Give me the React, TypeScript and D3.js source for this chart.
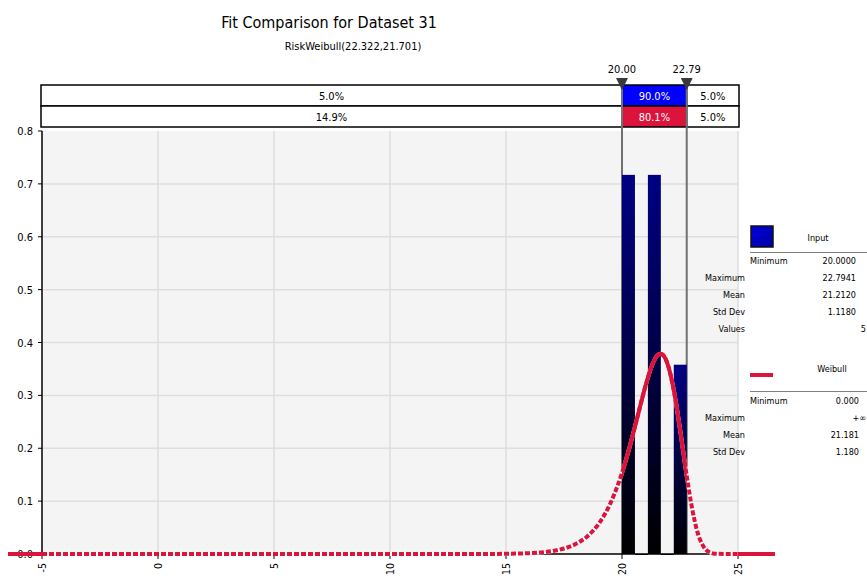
import React, { useEffect, useRef } from 'react';
import * as d3 from 'd3';

// x axis / y axis ticks
const xTicks = [-5, 0, 5, 10, 15, 20, 25];
const yTicks = [0, 0.1, 0.2, 0.3, 0.4, 0.5, 0.6, 0.7, 0.8];

// input histogram (density)
const binLo = [20.0, 20.558, 21.116, 21.674, 22.232];
const binHi = [20.558, 21.116, 21.674, 22.232, 22.794];
const binDensity = [0.717, 0, 0.717, 0, 0.358];

// fitted Weibull density
const weibullX = [-5, 14, 15, 16, 16.5, 17, 17.5, 18, 18.5, 19, 19.5, 20, 20.25, 20.5, 20.75, 21, 21.25, 21.5, 21.65, 21.75, 22, 22.25, 22.5, 22.79, 23, 23.25, 23.5, 23.75, 24, 24.5, 25];
const weibullY = [0, 0, 0.0004, 0.0016, 0.003, 0.0056, 0.0104, 0.0188, 0.0333, 0.0574, 0.0959, 0.1535, 0.19, 0.2308, 0.2739, 0.3159, 0.3516, 0.3743, 0.3788, 0.3771, 0.3545, 0.3055, 0.2365, 0.1479, 0.0914, 0.0418, 0.0151, 0.0039, 0.0007, 0, 0];

// delimiters and bar percentages
const delimiters = [20.0, 22.79];
const delimiterLabels = ['20.00', '22.79'];
const inputPct = ['5.0%', '90.0%', '5.0%'];
const fitPct = ['14.9%', '80.1%', '5.0%'];

// legend statistics
const inputStatNames = ['Minimum', 'Maximum', 'Mean', 'Std Dev', 'Values'];
const inputStatValues = ['20.0000', '22.7941', '21.2120', '1.1180', '5'];
const fitStatNames = ['Minimum', 'Maximum', 'Mean', 'Std Dev'];
const fitStatValues = ['0.000', '+\u221e', '21.181', '1.180'];

const FONT = '"DejaVu Sans Condensed", "DejaVu Sans", sans-serif';
const RED = '#dc143c';

function Chart() {
  const ref = useRef<SVGSVGElement>(null);
  const width = 867;
  const height = 578;

  useEffect(() => {
    const svg = d3.select(ref.current);
    svg.selectAll('*').remove();
    svg.attr('width', width).attr('height', height).style('font-family', FONT);

    const x = d3.scaleLinear().domain([-5, 25]).range([42, 738]);
    const y = d3.scaleLinear().domain([0, 0.8]).range([554, 131]);

    const defs = svg.append('defs');
    const grad = defs.append('linearGradient').attr('id', 'barGrad')
      .attr('x1', 0).attr('y1', 0).attr('x2', 0).attr('y2', 1);
    grad.append('stop').attr('offset', '0%').attr('stop-color', '#000085');
    grad.append('stop').attr('offset', '100%').attr('stop-color', '#000000');
    const lgrad = defs.append('linearGradient').attr('id', 'legGrad')
      .attr('x1', 0).attr('y1', 0).attr('x2', 1).attr('y2', 1);
    lgrad.append('stop').attr('offset', '0%').attr('stop-color', '#0000e0');
    lgrad.append('stop').attr('offset', '100%').attr('stop-color', '#0000a0');
    defs.append('clipPath').attr('id', 'inner').append('rect')
      .attr('x', x(delimiters[0])).attr('y', 0)
      .attr('width', x(delimiters[1]) - x(delimiters[0])).attr('height', height);

    // titles
    svg.append('text').attr('x', 329).attr('y', 28).attr('text-anchor', 'middle')
      .attr('font-size', 16).attr('fill', '#000').text('Fit Comparison for Dataset 31');
    svg.append('text').attr('x', 353).attr('y', 50).attr('text-anchor', 'middle')
      .attr('font-size', 11).attr('fill', '#000').text('RiskWeibull(22.322,21.701)');

    // plot background and grid
    svg.append('rect').attr('x', x(-5)).attr('y', y(0.8))
      .attr('width', x(25) - x(-5)).attr('height', y(0) - y(0.8)).attr('fill', '#f4f4f4');
    svg.append('g').selectAll('line').data(xTicks.slice(1)).join('line')
      .attr('x1', d => x(d)).attr('x2', d => x(d)).attr('y1', y(0.8)).attr('y2', y(0))
      .attr('stroke', '#dedede').attr('stroke-width', 1.5);
    svg.append('g').selectAll('line').data(yTicks.slice(1, -1)).join('line')
      .attr('x1', x(-5)).attr('x2', x(25)).attr('y1', d => y(d)).attr('y2', d => y(d))
      .attr('stroke', '#dedede').attr('stroke-width', 1.5);

    // delimiter bars at top
    const edges = [x(-5) - 1, x(delimiters[0]), x(delimiters[1]), 739];
    const rows = [
      { y0: 85, pct: inputPct, color: '#0000ff' },
      { y0: 106, pct: fitPct, color: RED },
    ];
    rows.forEach(r => {
      r.pct.forEach((p, i) => {
        svg.append('rect').attr('x', edges[i]).attr('y', r.y0)
          .attr('width', edges[i + 1] - edges[i]).attr('height', 21)
          .attr('fill', i === 1 ? r.color : '#fff').attr('stroke', '#000').attr('stroke-width', 1.5);
        svg.append('text').attr('x', (edges[i] + edges[i + 1]) / 2).attr('y', r.y0 + 15)
          .attr('text-anchor', 'middle').attr('font-size', 11)
          .attr('fill', i === 1 ? '#fff' : '#000').text(p);
      });
    });

    // delimiter lines, markers, labels
    delimiters.forEach((d, i) => {
      svg.append('line').attr('x1', x(d)).attr('x2', x(d)).attr('y1', 85).attr('y2', y(0))
        .attr('stroke', '#707070').attr('stroke-width', 2);
      svg.append('path')
        .attr('d', `M${x(d) - 6},78 L${x(d) + 6},78 L${x(d)},90 Z`)
        .attr('fill', '#3a3a3a');
      svg.append('text').attr('x', x(d)).attr('y', 73).attr('text-anchor', 'middle')
        .attr('font-size', 11).attr('fill', '#000').text(delimiterLabels[i]);
    });

    // histogram bars
    svg.append('g').selectAll('rect').data(binDensity).join('rect')
      .attr('x', (d, i) => x(binLo[i]))
      .attr('width', (d, i) => x(binHi[i]) - x(binLo[i]))
      .attr('y', d => y(d))
      .attr('height', d => Math.max(y(0) - y(d), 1))
      .attr('fill', d => (d > 0 ? 'url(#barGrad)' : '#0000a0'));

    // axes
    svg.append('line').attr('x1', x(-5)).attr('x2', x(-5)).attr('y1', y(0.8)).attr('y2', y(0))
      .attr('stroke', '#000').attr('stroke-width', 1.5);
    svg.append('line').attr('x1', x(-5)).attr('x2', x(25)).attr('y1', y(0)).attr('y2', y(0))
      .attr('stroke', '#000').attr('stroke-width', 1.5);
    svg.append('g').selectAll('line').data(yTicks).join('line')
      .attr('x1', x(-5) - 4).attr('x2', x(-5)).attr('y1', d => y(d)).attr('y2', d => y(d))
      .attr('stroke', '#000');
    svg.append('g').selectAll('text').data(yTicks).join('text')
      .attr('x', 33).attr('y', d => y(d) + 4).attr('text-anchor', 'end')
      .attr('font-size', 11).attr('fill', '#000').text(d => d.toFixed(1));
    svg.append('g').selectAll('line').data(xTicks).join('line')
      .attr('x1', d => x(d)).attr('x2', d => x(d)).attr('y1', y(0)).attr('y2', y(0) + 5)
      .attr('stroke', '#000');
    svg.append('g').selectAll('text').data(xTicks).join('text')
      .attr('transform', d => `translate(${x(d)},563) rotate(-90)`)
      .attr('dy', '0.35em').attr('text-anchor', 'end')
      .attr('font-size', 10.5).attr('fill', '#000').text(d => String(d));

    // Weibull curve
    const pts = weibullX.map((v, i) => [v, weibullY[i]] as [number, number]);
    const line = d3.line<[number, number]>().x(d => x(d[0])).y(d => y(d[1])).curve(d3.curveMonotoneX);
    svg.append('line').attr('x1', 8).attr('x2', x(-5)).attr('y1', y(0)).attr('y2', y(0))
      .attr('stroke', RED).attr('stroke-width', 4);
    svg.append('line').attr('x1', x(25)).attr('x2', 775).attr('y1', y(0)).attr('y2', y(0))
      .attr('stroke', RED).attr('stroke-width', 4);
    svg.append('path').attr('d', line(pts)).attr('fill', 'none')
      .attr('stroke', '#fff').attr('stroke-width', 4);
    svg.append('path').attr('d', line(pts)).attr('fill', 'none')
      .attr('stroke', RED).attr('stroke-width', 4).attr('stroke-dasharray', '5,2');
    svg.append('path').attr('d', line(pts)).attr('fill', 'none').attr('clip-path', 'url(#inner)')
      .attr('stroke', RED).attr('stroke-width', 4);

    // legend: input
    svg.append('rect').attr('x', 751).attr('y', 226).attr('width', 22).attr('height', 21)
      .attr('fill', 'url(#legGrad)').attr('stroke', '#101010').attr('stroke-width', 1.5);
    svg.append('text').attr('x', 818).attr('y', 241).attr('text-anchor', 'middle')
      .attr('font-size', 9).attr('fill', '#000').text('Input');
    svg.append('line').attr('x1', 750).attr('x2', 867).attr('y1', 252.5).attr('y2', 252.5)
      .attr('stroke', '#808080');
    inputStatNames.forEach((n, i) => {
      const yy = 264 + i * 17;
      svg.append('text').attr('x', i === 0 ? 750 : 745).attr('y', yy)
        .attr('text-anchor', i === 0 ? 'start' : 'end')
        .attr('font-size', 9).attr('fill', '#000').text(n);
      svg.append('text').attr('x', i === 4 ? 866 : 856).attr('y', yy).attr('text-anchor', 'end')
        .attr('font-size', 9).attr('fill', '#000').text(inputStatValues[i]);
    });

    // legend: Weibull
    svg.append('line').attr('x1', 750).attr('x2', 773).attr('y1', 375).attr('y2', 375)
      .attr('stroke', RED).attr('stroke-width', 4);
    svg.append('text').attr('x', 832).attr('y', 372).attr('text-anchor', 'middle')
      .attr('font-size', 9).attr('fill', '#000').text('Weibull');
    svg.append('line').attr('x1', 750).attr('x2', 867).attr('y1', 391.5).attr('y2', 391.5)
      .attr('stroke', '#808080');
    fitStatNames.forEach((n, i) => {
      const yy = 404 + i * 17;
      svg.append('text').attr('x', i === 0 ? 750 : 745).attr('y', yy)
        .attr('text-anchor', i === 0 ? 'start' : 'end')
        .attr('font-size', 9).attr('fill', '#000').text(n);
      svg.append('text').attr('x', i === 1 ? 866 : 859).attr('y', yy).attr('text-anchor', 'end')
        .attr('font-size', 9).attr('fill', '#000').text(fitStatValues[i]);
    });
  }, []);

  return <svg ref={ref} style={{ position: 'absolute', left: 0, top: 0 }}></svg>;
}

export default function App() {
  return <Chart />;
}
